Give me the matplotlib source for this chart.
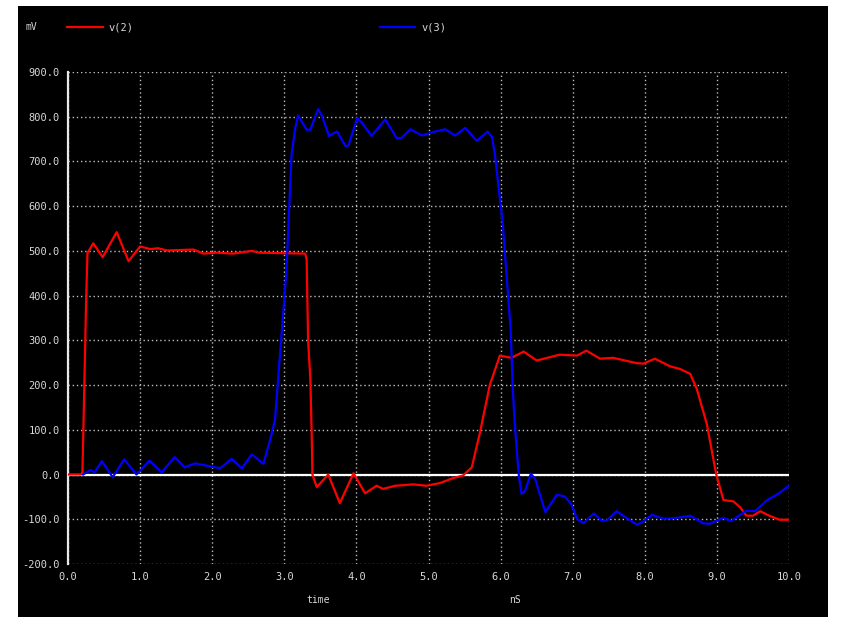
import matplotlib
matplotlib.use("Agg")
import matplotlib.pyplot as plt
from matplotlib.patches import Rectangle
from matplotlib.lines import Line2D

# v(2) trace (time in nS, value in mV)
t_v2 = [0.0, 0.18, 0.20, 0.22, 0.25, 0.27, 0.35, 0.48, 0.675, 0.84, 1.0, 1.14, 1.25,
        1.37, 1.74, 1.88, 2.06, 2.29, 2.55, 2.66, 3.29, 3.31, 3.33, 3.36, 3.38, 3.39,
        3.45, 3.61, 3.77, 3.96, 4.12, 4.28, 4.37, 4.54, 4.79, 4.97, 5.16, 5.34, 5.48,
        5.60, 5.71, 5.85, 5.99, 6.15, 6.32, 6.50, 6.82, 7.06, 7.19, 7.38, 7.56, 7.89,
        7.98, 8.14, 8.35, 8.49, 8.63, 8.72, 8.86, 8.99, 9.09, 9.23, 9.32, 9.41, 9.50,
        9.60, 9.74, 9.87, 10.0]
v_v2 = [0, 0, 5, 150, 380, 495, 517, 486, 542, 477, 510, 504, 506,
        501, 503, 494, 496, 494, 500, 496, 494, 480, 300, 218, 91, 0,
        -28, 0, -64, 3, -42, -25, -32, -25, -22, -25, -19, -8, -2,
        16, 91, 200, 266, 261, 275, 255, 268, 266, 277, 259, 261, 249,
        248, 259, 242, 236, 225, 192, 113, 1, -57, -60, -73, -92, -92,
        -82, -93, -101, -101]

# v(3) trace
t_v3 = [0.21, 0.31, 0.37, 0.47, 0.62, 0.78, 0.95, 1.13, 1.30, 1.48, 1.62, 1.76, 1.92,
        2.11, 2.27, 2.41, 2.55, 2.71, 2.80, 2.87, 3.03, 3.10, 3.15, 3.19, 3.31, 3.36,
        3.47, 3.52, 3.62, 3.73, 3.85, 3.89, 4.01, 4.07, 4.21, 4.40, 4.56, 4.62, 4.75,
        4.91, 5.07, 5.23, 5.37, 5.51, 5.67, 5.82, 5.88, 5.92, 6.03, 6.14, 6.17, 6.20,
        6.25, 6.29, 6.34, 6.42, 6.48, 6.62, 6.78, 6.89, 6.98, 7.06, 7.15, 7.29, 7.40,
        7.47, 7.61, 7.70, 7.89, 7.96, 8.10, 8.26, 8.44, 8.63, 8.81, 8.90, 9.09, 9.20,
        9.34, 9.41, 9.53, 9.69, 9.85, 10.0]
v_v3 = [0, 10, 5, 30, -6, 34, 0, 31, 5, 39, 16, 25, 20,
        14, 35, 14, 45, 24, 76, 121, 456, 714, 773, 803, 771, 771,
        817, 803, 757, 767, 734, 736, 797, 788, 757, 794, 752, 752, 772,
        758, 766, 772, 758, 775, 746, 767, 755, 717, 560, 322, 188, 106,
        2, -43, -36, 2, -10, -84, -45, -49, -66, -99, -109, -87, -103,
        -103, -82, -92, -112, -107, -90, -99, -97, -92, -109, -110, -97, -104,
        -88, -81, -82, -58, -43, -25]

x_ticks = [0, 1, 2, 3, 4, 5, 6, 7, 8, 9, 10]
y_ticks = [-200, -100, 0, 100, 200, 300, 400, 500, 600, 700, 800, 900]

W, H = 842, 617
FG = "#d8d8d8"
GRID = "#bdbdbd"
MONO = "DejaVu Sans Mono"

fig = plt.figure(figsize=(W / 100, H / 100), dpi=100, facecolor="white")
# black panel behind everything
fig.patches.append(Rectangle((18 / W, 0), (828 - 18) / W, (H - 6) / H,
                             transform=fig.transFigure, facecolor="black",
                             edgecolor="none", zorder=-10))

ax = fig.add_axes([68 / W, 1 - 564 / H, (789 - 68) / W, (564 - 72) / H])
ax.set_zorder(2)
ax.set_facecolor("black")
ax.set_xlim(0, 10)
ax.set_ylim(-200, 900)

for xt in x_ticks:
    ax.axvline(xt, color=GRID, lw=1.0, ls=(0, (1, 2)), zorder=1)
for yt in y_ticks:
    ax.axhline(yt, color=GRID, lw=1.0, ls=(0, (1, 2)), zorder=1)
ax.axhline(0, color="white", lw=1.6, zorder=2)

ax.plot(t_v2, v_v2, color="#ff0000", lw=1.6, zorder=3)
ax.plot(t_v3, v_v3, color="#0000ff", lw=1.6, zorder=4)

for s in ["top", "right", "bottom"]:
    ax.spines[s].set_visible(False)
ax.spines["left"].set_color("#e8e8e8")
ax.spines["left"].set_linewidth(1.6)

ax.set_xticks(x_ticks)
ax.set_xticklabels([f"{v:.1f}" for v in x_ticks])
ax.set_yticks(y_ticks)
ax.set_yticklabels([f"{v:.1f}" for v in y_ticks])
ax.tick_params(length=0, colors=FG, labelsize=7.5, pad=6)
for lab in ax.get_xticklabels() + ax.get_yticklabels():
    lab.set_family(MONO)

# header legend
fig.text(25 / W, 1 - 27 / H, "mV", color=FG, fontsize=7, family=MONO, va="center")
fig.lines.append(Line2D([67 / W, 103 / W], [1 - 27 / H] * 2, color="#ff0000", lw=1.6,
                        transform=fig.transFigure))
fig.text(108 / W, 1 - 27 / H, "v(2)", color=FG, fontsize=7.5, family=MONO, va="center")
fig.lines.append(Line2D([380 / W, 415 / W], [1 - 27 / H] * 2, color="#0000ff", lw=1.6,
                        transform=fig.transFigure))
fig.text(422 / W, 1 - 27 / H, "v(3)", color=FG, fontsize=7.5, family=MONO, va="center")

# axis captions
fig.text(318 / W, 1 - 600 / H, "time", color=FG, fontsize=7, family=MONO,
         ha="center", va="center")
fig.text(515 / W, 1 - 600 / H, "nS", color=FG, fontsize=7, family=MONO,
         ha="center", va="center")

fig.savefig("out.png", dpi=100, facecolor="white")
